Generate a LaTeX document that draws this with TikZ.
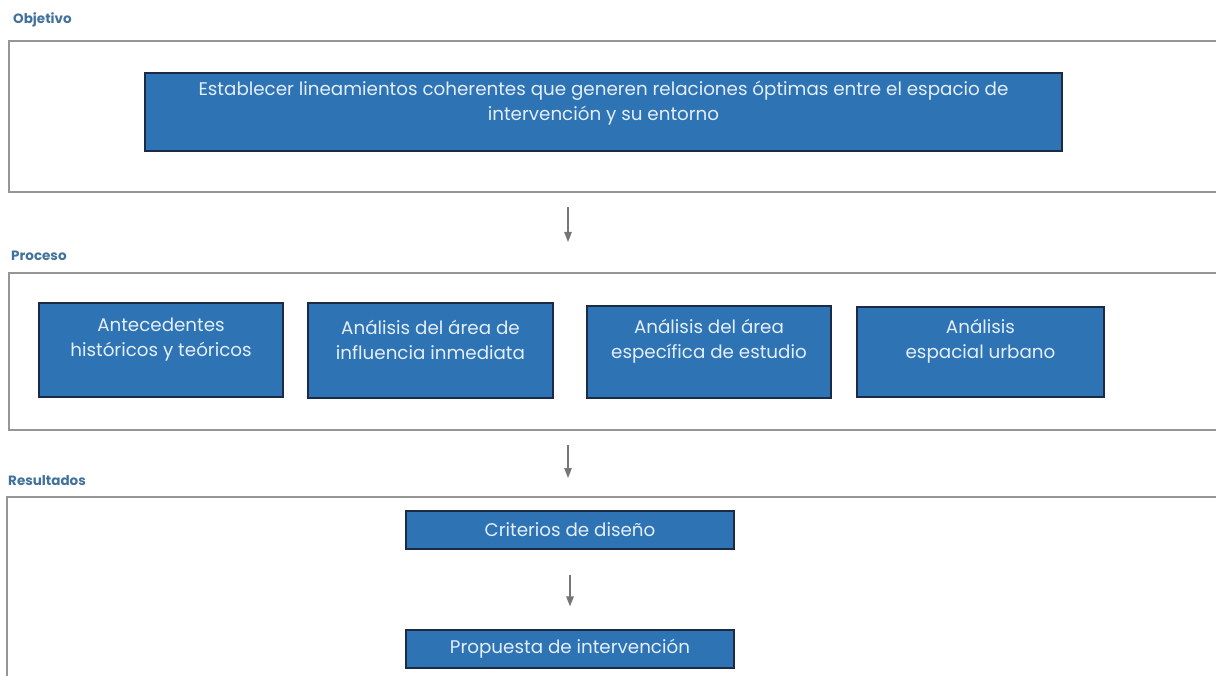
\documentclass[tikz,border=0pt]{standalone}
\usepackage{fontspec}
\setmainfont{Poppins}
\usetikzlibrary{arrows.meta}
\definecolor{boxblue}{RGB}{46,116,181}
\definecolor{boxline}{RGB}{28,42,70}
\definecolor{boxtext}{RGB}{228,238,250}
\definecolor{framegray}{RGB}{150,150,150}
\definecolor{headblue}{RGB}{65,113,156}
\definecolor{arrowgray}{RGB}{118,118,118}

\begin{document}
\begin{tikzpicture}[x=1pt,y=-1pt]
        \tikzstyle{panel}=[draw=framegray,line width=1.6pt]
        \tikzstyle{heading}=[anchor=west,inner sep=0,text=headblue,font=\bfseries\fontsize{13.5}{15}\selectfont]
        \tikzstyle{blue box}=[draw=boxline,line width=1.2pt,fill=boxblue,inner sep=0]
        \tikzstyle{box text}=[text=boxtext,align=center,inner sep=0,font=\fontsize{18.3}{25}\selectfont]
        \tikzstyle{flow arrow}=[draw=arrowgray,line width=1.3pt,-{Triangle[width=7.5pt,length=10pt]}]

        \useasboundingbox (0,0) rectangle (1216,676);

        % Objetivo
        \node[heading] (h obj) at (13,20) {Objetivo};
        \draw[panel] (9,41) rectangle (1225,192);
        \node[blue box,minimum width=917pt,minimum height=78pt] (obj) at (603.5,112) {};
        \node[box text] (obj text) at ([yshift=9pt]obj.center) {Establecer lineamientos coherentes que generen relaciones óptimas entre el espacio de\\intervención y su entorno};

        \coordinate (a1 top) at (568,207);
        \coordinate (a1 tip) at (568,242);
        \draw[flow arrow] (a1 top) -- (a1 tip);

        % Proceso
        \node[heading] (h proc) at (11,256) {Proceso};
        \draw[panel] (9,273) rectangle (1225,430);
        \node[blue box,minimum width=244pt,minimum height=94pt] (ant) at (161,350) {};
        \node[blue box,minimum width=245pt,minimum height=95pt] (inf) at (430.5,350.5) {};
        \node[blue box,minimum width=244pt,minimum height=92pt] (esp) at (709,352) {};
        \node[blue box,minimum width=247pt,minimum height=90pt] (urb) at (980.5,352) {};
        \node[box text] (ant text) at (161,340) {Antecedentes\\históricos y teóricos};
        \node[box text] (inf text) at (430.5,340) {Análisis del área de\\influencia inmediata};
        \node[box text] (esp text) at (709,341) {Análisis del área\\específica de estudio};
        \node[box text] (urb text) at (980.5,341) {Análisis\\espacial urbano};

        \coordinate (a2 top) at (568,445);
        \coordinate (a2 tip) at (568,478);
        \draw[flow arrow] (a2 top) -- (a2 tip);

        % Resultados
        \node[heading] (h res) at (8,481) {Resultados};
        \draw[panel] (1225,497) -- (7,497) -- (7,690);
        \node[blue box,box text,minimum width=328pt,minimum height=38pt] (crit) at (570,530) {Criterios de diseño};
        \node[blue box,box text,minimum width=328pt,minimum height=38pt] (prop) at (570,649) {Propuesta de intervención};
        \draw[flow arrow,shorten <=25pt,shorten >=23pt] (crit) -- (prop);
\end{tikzpicture}
\end{document}
